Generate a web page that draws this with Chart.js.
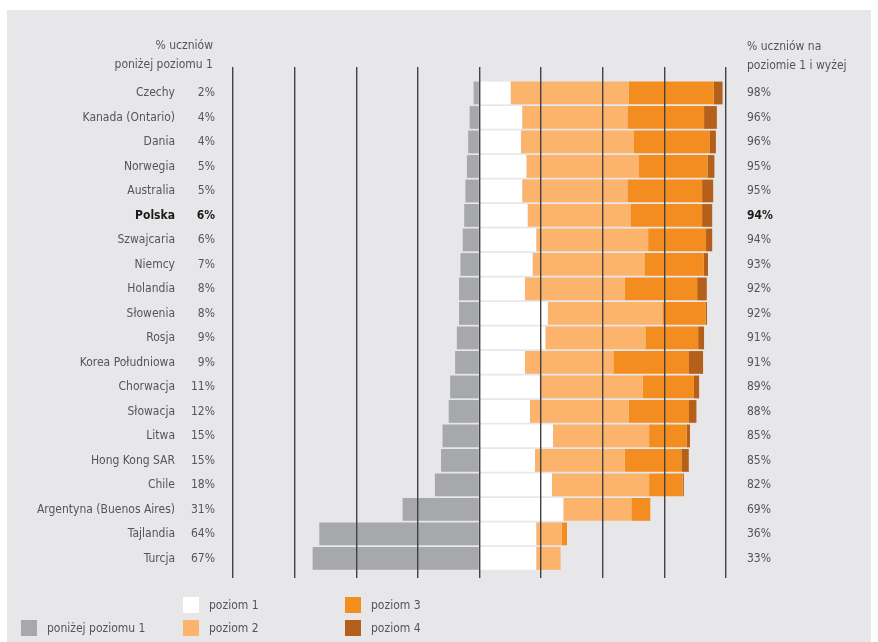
<!DOCTYPE html>
<html><head><meta charset="utf-8">
<script src="https://cdn.jsdelivr.net/npm/chart.js@4.4.1/dist/chart.umd.min.js"></script>
<style>
html,body{margin:0;padding:0;background:#fff;width:878px;height:642px;overflow:hidden;}
#panel{position:absolute;left:7px;top:10px;width:864px;height:632px;background:#e7e7e9;}
#wrap{position:absolute;left:0;top:0;width:878px;height:642px;}
.t{position:absolute;font-family:'DejaVu Sans Condensed','Liberation Sans Narrow',sans-serif;font-size:12px;color:#555558;white-space:nowrap;line-height:16px;}
.r{text-align:right;}
.sw{position:absolute;width:16px;height:16px;}
</style></head>
<body>
<div id="panel"></div>
<div id="wrap"><canvas id="c" width="878" height="642"></canvas></div>
<div class="t r" style="right:665px;top:37px;">% uczniów</div>
<div class="t r" style="right:665px;top:56px;">poniżej poziomu 1</div>
<div class="t" style="left:747px;top:38px;">% uczniów na</div>
<div class="t" style="left:747px;top:57px;">poziomie 1 i wyżej</div>
<div id="legend"></div>
<script>
const categories = ['Czechy','Kanada (Ontario)','Dania','Norwegia','Australia','Polska','Szwajcaria','Niemcy','Holandia','Słowenia','Rosja','Korea Południowa','Chorwacja','Słowacja','Litwa','Hong Kong SAR','Chile','Argentyna (Buenos Aires)','Tajlandia','Turcja'];
const belowLabels = ['2%','4%','4%','5%','5%','6%','6%','7%','8%','8%','9%','9%','11%','12%','15%','15%','18%','31%','64%','67%'];
const aboveLabels = ['98%','96%','96%','95%','95%','94%','94%','93%','92%','92%','91%','91%','89%','88%','85%','85%','82%','69%','36%','33%'];
const belowLevel1 = [2.4,4.0,4.6,5.1,5.7,6.2,6.8,7.7,8.3,8.3,9.2,9.9,11.9,12.5,15.0,15.6,18.1,31.2,65.0,67.7];
const level1 = [12.6,17.3,16.8,19.0,17.3,19.5,23.0,21.5,18.4,27.7,26.7,18.4,24.4,20.4,29.8,22.5,29.4,34.0,23.0,23.0];
const level2 = [48.0,42.7,45.7,45.7,42.7,41.7,45.4,45.4,40.6,46.5,40.6,35.9,41.8,40.1,39.0,36.4,39.4,27.6,10.4,9.9];
const level3 = [34.4,31.1,30.8,27.8,30.3,29.1,23.5,24.1,29.3,17.6,21.4,30.7,20.8,24.5,15.2,23.0,13.6,7.7,2.1,0];
const level4 = [3.6,5.2,2.6,2.8,4.5,4.1,2.5,1.7,3.9,0.5,2.4,5.7,2.1,3.0,1.4,3.0,0.5,0,0,0];
const xTicks = [-100,-75,-50,-25,0,25,50,75,100];
const seriesNames = ['poniżej poziomu 1','poziom 1','poziom 2','poziom 3','poziom 4'];
const colors = ['#a7a8ac','#ffffff','#fcb36c','#f38d1f','#b5601a'];

const highlight = categories.indexOf('Polska');
const FAM = "'DejaVu Sans Condensed','Liberation Sans Narrow',sans-serif";
const fontFn = (ctx) => ({family: FAM, size: 12, weight: (ctx.tick && ctx.tick.value === highlight) ? 'bold' : 'normal'});
const colorFn = (ctx) => (ctx.tick && ctx.tick.value === highlight) ? '#1a1a1a' : '#555558';
const setTicks = (axis) => { axis.ticks = categories.map((_, i) => ({value: i})); };
const yRange = {min: -1.06, max: 19.8};

const toPoints = (arr, sign) => arr.map((v, i) => ({x: sign * v, y: i}));
const seriesData = [toPoints(belowLevel1, -1), toPoints(level1, 1), toPoints(level2, 1), toPoints(level3, 1), toPoints(level4, 1)];

const labelAxis = (pos, weight, width, pad, cb) => ({
  type: 'linear', position: pos, weight: weight, reverse: true, min: yRange.min, max: yRange.max,
  stacked: true, offset: false,
  grid: {display: false, drawTicks: false, offset: false}, border: {display: false},
  afterBuildTicks: setTicks,
  afterFit: (s) => { s.width = width; },
  ticks: {autoSkip: false, padding: pad, font: fontFn, color: colorFn, callback: cb}
});

new Chart(document.getElementById('c'), {
  type: 'bar',
  data: {
    datasets: seriesData.map((d, k) => ({
      label: seriesNames[k], data: d, backgroundColor: colors[k], borderWidth: 0,
      barPercentage: 0.93, categoryPercentage: 1.0, yAxisID: 'y'
    }))
  },
  options: {
    indexAxis: 'y',
    responsive: false,
    animation: false,
    layout: {padding: {left: 10, right: 10, top: 67, bottom: 64}},
    plugins: {legend: {display: false}, tooltip: {enabled: false}},
    scales: {
      x: {
        type: 'linear', min: -100, max: 100, stacked: true, offset: false,
        afterBuildTicks: (axis) => { axis.ticks = xTicks.map(v => ({value: v})); },
        ticks: {display: false},
        grid: {color: '#434345', lineWidth: 1.4, drawTicks: false, z: 1},
        border: {display: false}
      },
      y: labelAxis('left', 2, 171, 6, (v) => categories[v] ?? ''),
      yPct: labelAxis('left', 1, 52, 18, (v) => belowLabels[v] ?? ''),
      yRight: labelAxis('right', 1, 142, 21, (v) => aboveLabels[v] ?? '')
    }
  }
});

// HTML legend
const legendPos = [
  {sx: 21, sy: 620},
  {sx: 183, sy: 597},
  {sx: 183, sy: 620},
  {sx: 345, sy: 597},
  {sx: 345, sy: 620}
];
const lg = document.getElementById('legend');
seriesNames.forEach((n, k) => {
  const p = legendPos[k];
  const s = document.createElement('div');
  s.className = 'sw'; s.style.left = p.sx + 'px'; s.style.top = p.sy + 'px'; s.style.background = colors[k];
  lg.appendChild(s);
  const t = document.createElement('div');
  t.className = 't'; t.style.left = (p.sx + 26) + 'px'; t.style.top = p.sy + 'px'; t.textContent = n;
  lg.appendChild(t);
});
</script>
</body></html>
